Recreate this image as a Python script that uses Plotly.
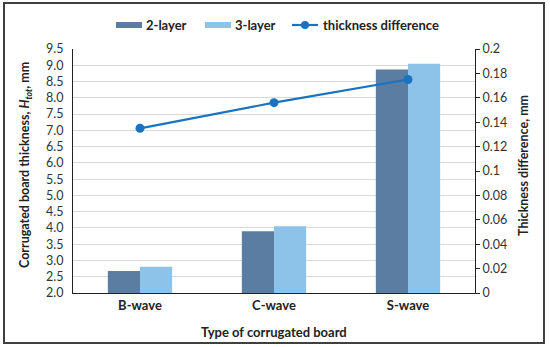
import plotly.graph_objects as go

categories = ["B-wave", "C-wave", "S-wave"]
two_layer = [2.68, 3.90, 8.87]
three_layer = [2.81, 4.05, 9.05]
thickness_diff = [0.135, 0.156, 0.175]

C2 = "#5B7DA2"
C3 = "#8EC3E9"
CL = "#1A73C0"
FONT = "Lato, Open Sans, sans-serif"

W, H = 550, 347
L, R, T, B = 73, 475, 49, 293


def px(x):
    return (x - L) / (R - L)


def py(y):
    return (B - y) / (B - T)


fig = go.Figure()
fig.add_trace(go.Bar(x=categories, y=two_layer, name="2-layer", marker=dict(color=C2, line=dict(width=0)),
                     showlegend=False))
fig.add_trace(go.Bar(x=categories, y=three_layer, name="3-layer", marker=dict(color=C3, line=dict(width=0)),
                     showlegend=False))
fig.add_trace(go.Scatter(x=categories, y=thickness_diff, name="thickness difference", yaxis="y2",
                         mode="lines+markers", line=dict(color=CL, width=2.2),
                         marker=dict(color=CL, size=9), showlegend=False))

shapes = [
    dict(type="rect", xref="paper", yref="paper", x0=px(4), x1=px(544), y0=py(343), y1=py(3),
         line=dict(color="#404040", width=2), fillcolor="rgba(0,0,0,0)", layer="below"),
    dict(type="rect", xref="paper", yref="paper", x0=px(116), x1=px(142), y0=py(28), y1=py(22),
         line=dict(width=0), fillcolor=C2),
    dict(type="rect", xref="paper", yref="paper", x0=px(205), x1=px(231), y0=py(28), y1=py(22),
         line=dict(width=0), fillcolor=C3),
    dict(type="line", xref="paper", yref="paper", x0=px(292), x1=px(318), y0=py(25), y1=py(25),
         line=dict(color=CL, width=2.2)),
    dict(type="circle", xref="paper", yref="paper", x0=px(301), x1=px(309), y0=py(29), y1=py(21),
         line=dict(width=0), fillcolor=CL),
]

TXT = dict(color="#222", family=FONT)
annotations = [
    dict(text="<b>2-layer</b>", x=px(144), y=py(25), xref="paper", yref="paper", xanchor="left",
         yanchor="middle", showarrow=False, font=dict(size=13, **TXT)),
    dict(text="<b>3-layer</b>", x=px(233), y=py(25), xref="paper", yref="paper", xanchor="left",
         yanchor="middle", showarrow=False, font=dict(size=13, **TXT)),
    dict(text="<b>thickness difference</b>", x=px(321), y=py(25), xref="paper", yref="paper",
         xanchor="left", yanchor="middle", showarrow=False, font=dict(size=13, **TXT)),
    dict(text="<b>Type of corrugated board</b>", x=px(274), y=py(332), xref="paper", yref="paper",
         xanchor="center", yanchor="middle", showarrow=False, font=dict(size=13, **TXT)),
    dict(text="<b>Corrugated board thickness, <i>H</i><sub><i>tot</i></sub>, mm</b>", x=px(25),
         y=py(165), xref="paper", yref="paper", xanchor="center", yanchor="middle", textangle=-90,
         showarrow=False, font=dict(size=12.5, **TXT)),
    dict(text="<b>Thickness difference, mm</b>", x=px(523), y=py(166), xref="paper", yref="paper",
         xanchor="center", yanchor="middle", textangle=-90, showarrow=False,
         font=dict(size=12.5, **TXT)),
]

fig.update_layout(
    width=W, height=H,
    margin=dict(l=L, r=W - R, t=T, b=H - B, autoexpand=False),
    paper_bgcolor="white", plot_bgcolor="white",
    font=dict(family=FONT, size=12, color="#333"),
    barmode="group", bargap=0.52, bargroupgap=0,
    shapes=shapes, annotations=annotations,
    xaxis=dict(showline=True, linecolor="#222", linewidth=1.2, ticks="", showgrid=False,
               automargin=False,
               tickfont=dict(size=13, color="#222", family=FONT),
               tickprefix="<b>", ticksuffix="</b>"),
    yaxis=dict(range=[2, 9.5], dtick=0.5, tickformat=".1f", showgrid=True, gridcolor="#D9D9D9",
               gridwidth=1, showline=True, linecolor="#222", linewidth=1.2, ticks="",
               automargin=False, ticklabelstandoff=6,
               tickfont=dict(size=12.5, color="#333", family=FONT), zeroline=False),
    yaxis2=dict(range=[0, 0.2], dtick=0.02, overlaying="y", side="right", showgrid=False,
                showline=True, linecolor="#222", linewidth=1.2, ticks="outside", ticklen=4,
                tickcolor="#222", zeroline=False, automargin=False,
                tickfont=dict(size=12.5, color="#333", family=FONT)),
)

fig.write_html("out.html", config={"displayModeBar": False},
               post_script="document.body.style.margin='0';")
